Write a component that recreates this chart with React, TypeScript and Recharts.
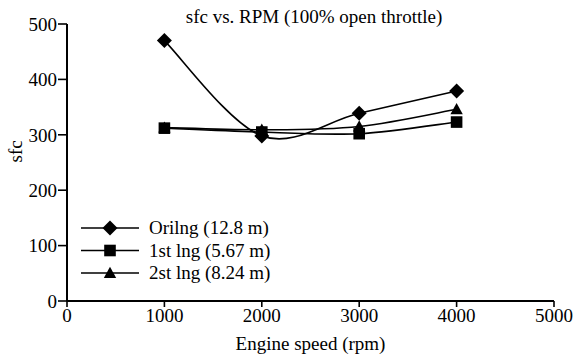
import React from 'react';
import { LineChart, Line, XAxis, YAxis } from 'recharts';

const rpm = [1000, 2000, 3000, 4000];
const orilng = [470, 298, 339, 379];
const lng1 = [312, 305, 302, 323];
const lng2 = [313, 309, 315, 346];
const xTicks = [0, 1000, 2000, 3000, 4000, 5000];
const yTicks = [0, 100, 200, 300, 400, 500];
const seriesNames = ['Orilng (12.8 m)', '1st lng (5.67 m)', '2st lng (8.24 m)'];

const data = rpm.map((r, i) => ({ rpm: r, o: orilng[i], a: lng1[i], b: lng2[i] }));

const FONT = '"Liberation Serif", "Times New Roman", serif';

// Catmull-Rom style curve factory (uniform, tension 0)
const catmullRom: any = (context: any) => {
  let pts: number[][] = [];
  return {
    areaStart() {},
    areaEnd() {},
    lineStart() { pts = []; },
    point(x: number, y: number) { pts.push([+x, +y]); },
    lineEnd() {
      const n = pts.length;
      if (!n) return;
      context.moveTo(pts[0][0], pts[0][1]);
      for (let i = 0; i < n - 1; i++) {
        const p0 = pts[i - 1] || pts[i];
        const p1 = pts[i];
        const p2 = pts[i + 1];
        const p3 = pts[i + 2] || p2;
        const c1x = p1[0] + (p2[0] - p0[0]) / 6;
        const c1y = p1[1] + (p2[1] - p0[1]) / 6;
        const c2x = p2[0] - (p3[0] - p1[0]) / 6;
        const c2y = p2[1] - (p3[1] - p1[1]) / 6;
        context.bezierCurveTo(c1x, c1y, c2x, c2y, p2[0], p2[1]);
      }
    },
  };
};

function Marker({ kind, cx, cy }: { kind: string; cx: number; cy: number }) {
  if (kind === 'diamond') {
    const r = 7.5;
    return <polygon points={`${cx},${cy - r} ${cx + r},${cy} ${cx},${cy + r} ${cx - r},${cy}`} fill="#000" />;
  }
  if (kind === 'square') {
    const r = 5.8;
    return <rect x={cx - r} y={cy - r} width={2 * r} height={2 * r} fill="#000" />;
  }
  const r = 6.2;
  return <polygon points={`${cx},${cy - r} ${cx + r},${cy + r * 0.8} ${cx - r},${cy + r * 0.8}`} fill="#000" />;
}

const makeDot = (kind: string) => (props: any) => {
  const { cx, cy, index } = props;
  if (cx == null || cy == null) return <g key={index} />;
  return <g key={`${kind}-${index}`}><Marker kind={kind} cx={cx} cy={cy} /></g>;
};

const kinds = ['diamond', 'square', 'triangle'];

function LegendBlock({ x, y }: { x: number; y: number }) {
  return (
    <g>
      {seriesNames.map((n, i) => {
        const yy = y + i * 22.5;
        return (
          <g key={n}>
            <line x1={x} x2={x + 58} y1={yy} y2={yy} stroke="#000" strokeWidth={1.6} />
            <Marker kind={kinds[i]} cx={x + 29} cy={yy} />
            <text x={x + 68} y={yy + 6} fontFamily={FONT} fontSize={19} fill="#000">{n}</text>
          </g>
        );
      })}
    </g>
  );
}

export default function App() {
  return (
    <div style={{ position: 'absolute', left: 0, top: 0, width: 577, height: 354, background: '#fff', fontFamily: FONT }}>
      <LineChart width={577} height={354} data={data} margin={{ top: 24, right: 23, bottom: 0, left: 0 }} style={{ fontFamily: FONT }}>
        <text x={314} y={23} textAnchor="middle" fontFamily={FONT} fontSize={19} fill="#000">sfc vs. RPM (100% open throttle)</text>
        <XAxis
          dataKey="rpm"
          type="number"
          domain={[0, 5000]}
          ticks={xTicks}
          height={53}
          axisLine={{ stroke: '#000', strokeWidth: 2 }}
          tickLine={{ stroke: '#000', strokeWidth: 1.6 }}
          tickSize={6}
          tickMargin={2}
          tick={{ fill: '#000', fontFamily: FONT, fontSize: 19 }}
          label={{ value: 'Engine speed (rpm)', position: 'insideBottom', offset: 4, fill: '#000', fontFamily: FONT, fontSize: 19 }}
        />
        <YAxis
          type="number"
          domain={[0, 500]}
          ticks={yTicks}
          width={67}
          axisLine={{ stroke: '#000', strokeWidth: 2 }}
          tickLine={{ stroke: '#000', strokeWidth: 1.6 }}
          tickSize={9}
          tickMargin={1}
          tick={{ fill: '#000', fontFamily: FONT, fontSize: 19 }}
          label={{ value: 'sfc', angle: -90, position: 'insideLeft', offset: 15, fill: '#000', fontFamily: FONT, fontSize: 19 }}
        />
        <LegendBlock x={81} y={228} />
        <Line type={catmullRom} dataKey="o" name={seriesNames[0]} stroke="#000" strokeWidth={1.6} dot={makeDot('diamond')} isAnimationActive={false} />
        <Line type={catmullRom} dataKey="a" name={seriesNames[1]} stroke="#000" strokeWidth={1.6} dot={makeDot('square')} isAnimationActive={false} />
        <Line type={catmullRom} dataKey="b" name={seriesNames[2]} stroke="#000" strokeWidth={1.6} dot={makeDot('triangle')} isAnimationActive={false} />
      </LineChart>
    </div>
  );
}
